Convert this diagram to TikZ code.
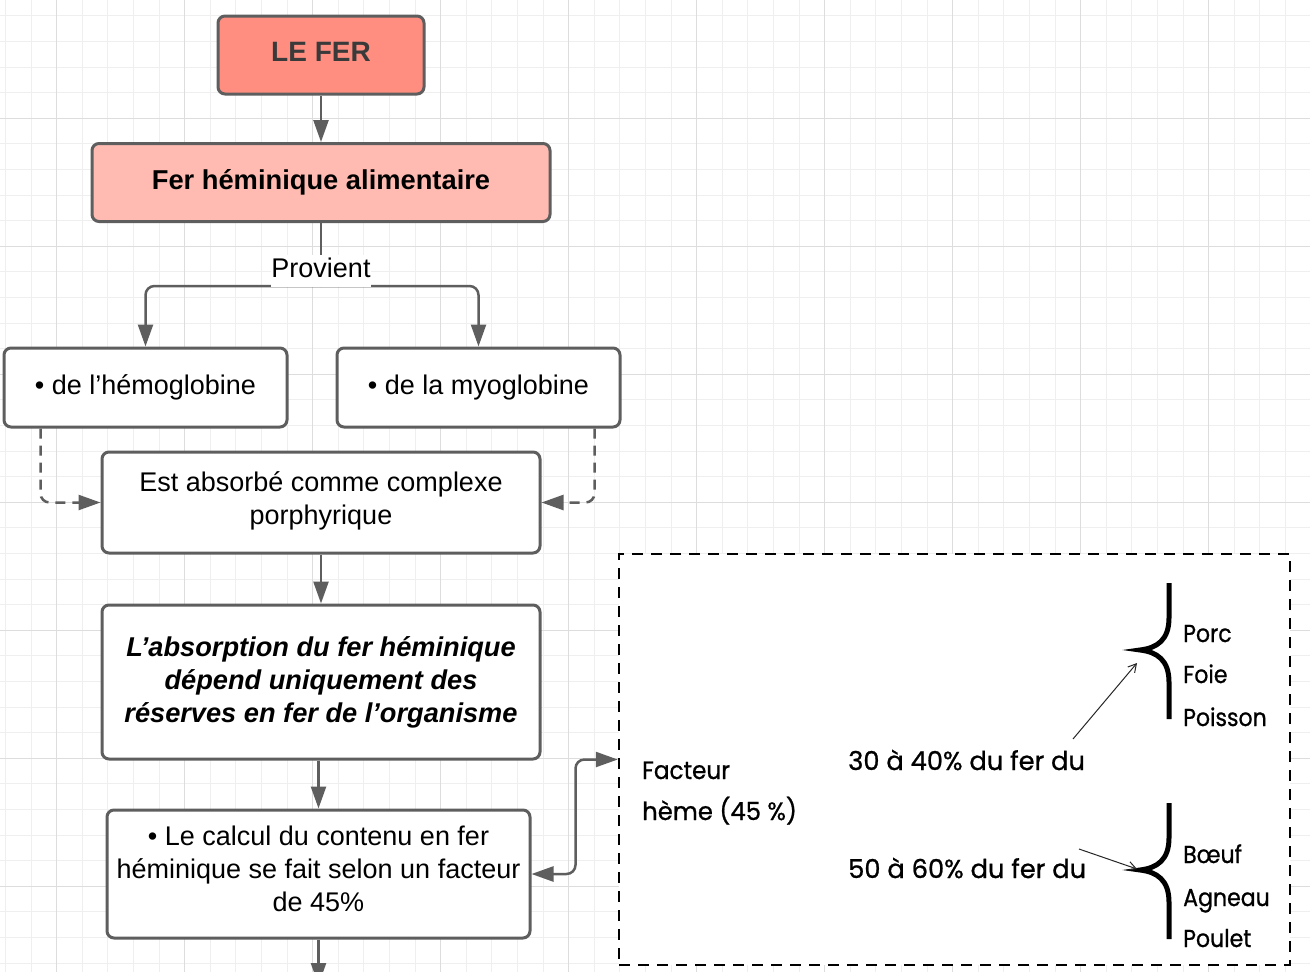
\documentclass[tikz,border=0pt]{standalone}
\usepackage{graphicx}
\usepackage{fontspec}
\setmainfont{Liberation Sans}
\newfontfamily\gothic[FakeStretch=0.9,FakeBold=0.8]{Poppins}
\usetikzlibrary{arrows.meta}
\definecolor{linegray}{HTML}{5E5E5E}
\definecolor{salmonA}{HTML}{FF8E80}
\definecolor{salmonB}{HTML}{FFBBB2}
\definecolor{gridminor}{HTML}{EFEFEF}
\definecolor{gridmajor}{HTML}{DDDDDD}
\definecolor{titlegray}{HTML}{3A3A3A}
\tikzset{
  box/.style={draw=linegray, line width=3pt, rounded corners=7pt, fill=white,
    inner sep=0pt, align=center, font=\fontsize{27}{33}\selectfont},
  boldfont/.style={font=\fontsize{27.3}{33}\selectfont\bfseries},
  txt/.style={inner sep=0pt, align=center, font=\fontsize{27}{33}\selectfont},
  conn/.style={draw=linegray, line width=2.5pt, rounded corners=9pt,
    -{Triangle[length=22pt,width=15pt]}},
  dconn/.style={conn, dash pattern=on 10pt off 7pt},
  dbox/.style={draw=black, line width=2.5pt, dash pattern=on 11pt off 8pt, fill=white, inner sep=0pt},
  gtext/.style={anchor=base west, inner sep=0pt, font=\gothic\fontsize{24.5}{30}\selectfont},
  gbig/.style={anchor=base west, inner sep=0pt, font=\gothic\fontsize{26}{30}\selectfont},
  gmid/.style={anchor=base west, inner sep=0pt, font=\gothic\fontsize{25}{30}\selectfont},
  brace/.style={draw=black, line width=5pt, line join=miter, line cap=butt},
  thinarr/.style={draw=black!85, line width=1pt, -{Straight Barb[length=8pt,width=9pt]}},
  plabel/.style={fill=white, inner sep=0pt, minimum width=100pt, minimum height=32pt,
    text height=19pt, text depth=6pt, font=\fontsize{27}{33}\selectfont}
}
\begin{document}
\begin{tikzpicture}[x=1pt,y=-1pt]
\useasboundingbox (0,0) rectangle (1310,972);
\clip (0,0) rectangle (1310,972);
\fill[white] (0,0) rectangle (1310,972);
% grid
\foreach \k in {0,...,50} \draw[gridminor, line width=1pt] ({5.5+25.6*\k},0) -- ({5.5+25.6*\k},972);
\foreach \k in {0,...,37} \draw[gridminor, line width=1pt] (0,{15.9+25.6*\k}) -- (1310,{15.9+25.6*\k});
\foreach \k in {0,...,9} \draw[gridmajor, line width=1pt] ({56.7+128*\k},0) -- ({56.7+128*\k},972);
\foreach \k in {1,...,7} \draw[gridmajor, line width=1pt] (0,{-9.7+128*\k}) -- (1310,{-9.7+128*\k});

% boxes
\node[box, fill=salmonA, minimum width=206pt, minimum height=78pt, text=titlegray,
  font=\fontsize{28}{33}\selectfont\bfseries, text depth=5.9pt] (lefer) at (321,55) {LE FER};
\node[box, boldfont, fill=salmonB, minimum width=458pt, minimum height=78pt] (fer) at (321,182.5) {Fer héminique alimentaire};
\node[box, minimum width=283pt, minimum height=79pt] (hemo) at (145.5,387.5) {• de l’hémoglobine};
\node[box, minimum width=283pt, minimum height=79pt] (myo) at (478.5,387.5) {• de la myoglobine};
\node[box, minimum width=438pt, minimum height=101pt] (abs) at (321,502.5) {};
\node[txt] (abstext) at (321,500.5) {Est absorbé comme complexe\\porphyrique};
\node[box, minimum width=438pt, minimum height=154pt, font=\fontsize{27.2}{33}\selectfont\bfseries\itshape] (dep) at (321,682)
  {L’absorption du fer héminique\\dépend uniquement des\\réserves en fer de l’organisme};
\node[box, minimum width=423pt, minimum height=128pt] (calc) at (318.5,874) {};
\node[txt] (calctext) at (318.5,869)
  {• Le calcul du contenu en fer\\héminique se fait selon un facteur\\de 45\%};
\node[dbox, minimum width=671pt, minimum height=411pt] (heme) at (954.5,759.5) {};

% connectors
\coordinate (pj) at (321,286);
\coordinate (offb) at (318.5,985);
\draw[conn] (lefer) -- (fer);
\draw[draw=linegray, line width=2.5pt] (fer.south) -- (pj);
\draw[conn] (pj) -| (hemo.north);
\draw[conn] (pj) -| (myo.north);
\node[plabel] (prov) at (321,271) {Provient};
\draw[dconn] ([xshift=38pt]hemo.south west) |- (abs.west);
\draw[dconn] ([xshift=-27pt]myo.south east) |- (abs.east);
\draw[conn] (abs) -- (dep);
\draw[conn] (dep.south -| calc.north) -- (calc.north);
\draw[conn] (calc.south) -- (offb);
\draw[conn, {Triangle[length=22pt,width=15pt]}-{Triangle[length=22pt,width=15pt]}]
  (calc.east) -- ++(44,0) |- (heme.west);

% contents of dashed box
\node[gmid] (fa) at (642,779) {\scalebox{1.03}[1]{Facteur}};
\node[gmid] (fb) at (642,820) {\scalebox{1.08}[1]{hème (45 \%)}};
\node[gbig] (t1) at (848,770) {\scalebox{1.1}[1]{30 à 40\% du fer du}};
\node[gbig] (t2) at (848,878) {\scalebox{1.1}[1]{50 à 60\% du fer du}};
\node[gtext] (p1) at (1183,642) {Porc};
\node[gtext] (p2) at (1183,683) {Foie};
\node[gtext] (p3) at (1183,726) {Poisson};
\node[gtext] (q1) at (1183,863) {Bœuf};
\node[gtext] (q2) at (1183,906) {Agneau};
\node[gtext] (q3) at (1183,947) {Poulet};
\draw[brace] (1169,583) -- (1169,618) .. controls (1169,640) and (1157,648) .. (1140,650)
  .. controls (1157,652) and (1169,660) .. (1169,682) -- (1169,719);
\draw[brace] (1169,803) -- (1169,838) .. controls (1169,860) and (1157,868) .. (1140,870)
  .. controls (1157,872) and (1169,880) .. (1169,902) -- (1169,939);
\coordinate (a1s) at (1073,739);
\coordinate (a1e) at (1137,663);
\coordinate (a2s) at (1079,849);
\coordinate (a2e) at (1137,869);
\draw[thinarr] (a1s) -- (a1e);
\draw[thinarr] (a2s) -- (a2e);
\end{tikzpicture}
\end{document}
